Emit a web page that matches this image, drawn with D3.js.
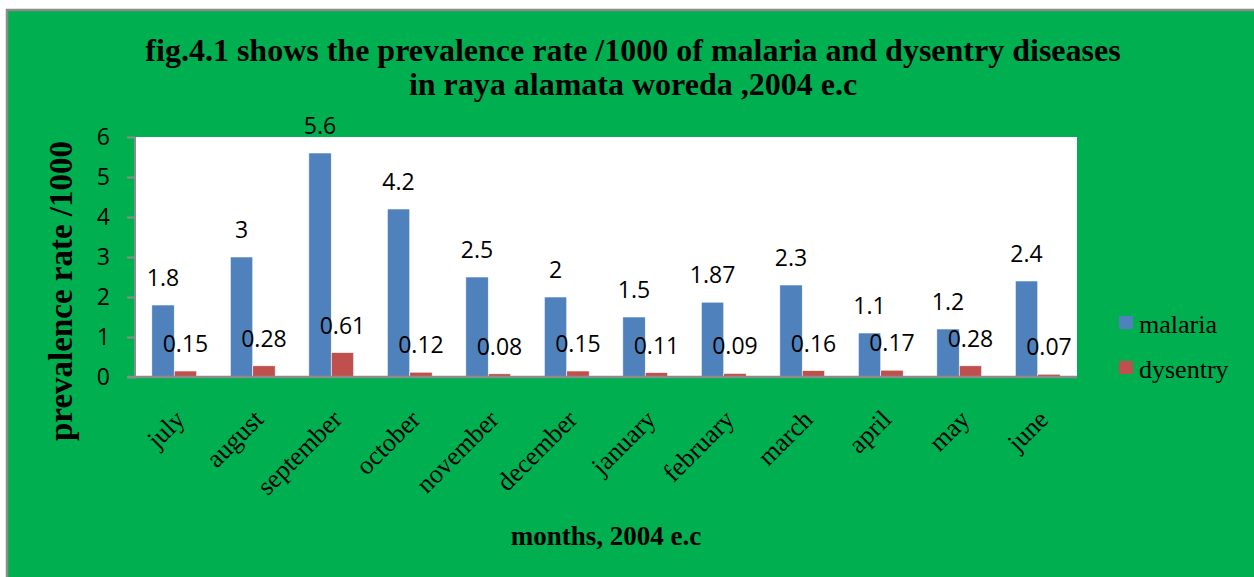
<!doctype html>
<html lang="en">
<head>
  <meta charset="utf-8">
  <title>prevalence rate</title>
  <style>
    body { margin: 0; background: #fff; }
  </style>
</head>
<body>
<svg id="chart" width="1254" height="577"></svg>

<script src="https://d3js.org/d3.v7.min.js"></script>
<script type="text/javascript">
const months = ['july', 'august', 'september', 'october', 'november', 'december',
  'january', 'february', 'march', 'april', 'may', 'june'];
const malaria = [1.8, 3, 5.6, 4.2, 2.5, 2, 1.5, 1.87, 2.3, 1.1, 1.2, 2.4];
const dysentry = [0.15, 0.28, 0.61, 0.12, 0.08, 0.15, 0.11, 0.09, 0.16, 0.17, 0.28, 0.07];
const yTicks = [0, 1, 2, 3, 4, 5, 6];
const seriesNames = ['malaria', 'dysentry'];

const colors = { malaria: '#4f81bd', dysentry: '#c0504d' };
const serif = '"Liberation Serif", "Times New Roman", serif';
const sans = '"Open Sans", "Noto Sans", sans-serif';

const svg = d3.select('#chart');

// green frame, grey edge shows on top/left only
svg.append('rect')
  .attr('x', 7).attr('y', 10)
  .attr('width', 1260).attr('height', 580)
  .attr('fill', '#00af50')
  .attr('stroke', '#8c8c8c')
  .attr('stroke-width', 2.5);

const plot = { left: 135, top: 137, right: 1077, bottom: 377 };

const x = d3.scaleBand()
  .domain(months)
  .range([plot.left, plot.right]);

const y = d3.scaleLinear()
  .domain([0, 6])
  .range([plot.bottom, plot.top]);

svg.append('rect')
  .attr('x', plot.left).attr('y', plot.top)
  .attr('width', plot.right - plot.left)
  .attr('height', plot.bottom - plot.top)
  .attr('fill', '#fff');

const rows = months.map((m, i) => ({ month: m, malaria: malaria[i], dysentry: dysentry[i] }));

const groups = svg.append('g').selectAll('g')
  .data(rows)
  .join('g')
  .attr('transform', d => `translate(${x(d.month)},0)`);

// gap width 150% -> each bar is band / 3.5
const barW = x.bandwidth() / 3.5;
const offset = s => x.bandwidth() / 2 + (s === 'malaria' ? -barW : 0);

groups.selectAll('rect')
  .data(d => seriesNames.map(s => ({ s, v: d[s] })))
  .join('rect')
  .attr('x', d => offset(d.s))
  .attr('y', d => y(d.v))
  .attr('width', barW)
  .attr('height', d => y(0) - y(d.v))
  .attr('fill', d => colors[d.s])
  .attr('stroke', '#fff')
  .attr('stroke-width', 0.6);

groups.selectAll('text')
  .data(d => seriesNames.map(s => ({ s, v: d[s] })))
  .join('text')
  .attr('x', d => offset(d.s) + barW / 2)
  .attr('y', d => y(d.v) - 19)
  .attr('text-anchor', 'middle')
  .attr('font-family', sans)
  .attr('font-size', 23)
  .attr('fill', '#000')
  .text(d => d.v);

// y axis
const yAxis = svg.append('g')
  .attr('transform', `translate(${plot.left},0)`)
  .call(d3.axisLeft(y).tickValues(yTicks).tickSize(8).tickPadding(17).tickFormat(d3.format('d')));
yAxis.selectAll('line, path').attr('stroke', '#8c8c8c').attr('stroke-width', 2);
yAxis.select('.domain').attr('d', `M0,${plot.top}V${plot.bottom}`);
yAxis.selectAll('text')
  .attr('font-family', sans)
  .attr('font-size', 23)
  .attr('fill', '#000');

// x axis
svg.append('line')
  .attr('x1', plot.left - 8).attr('x2', plot.right)
  .attr('y1', plot.bottom).attr('y2', plot.bottom)
  .attr('stroke', '#8c8c8c')
  .attr('stroke-width', 2.5);

svg.append('g').selectAll('text')
  .data(months)
  .join('text')
  .attr('transform', d => `translate(${x(d) + x.bandwidth() / 2 + 12},${plot.bottom + 44}) rotate(-45)`)
  .attr('text-anchor', 'end')
  .attr('font-family', serif)
  .attr('font-size', 26)
  .attr('fill', '#000')
  .text(d => d);

// titles
const title = svg.append('text')
  .attr('text-anchor', 'middle')
  .attr('font-family', serif)
  .attr('font-weight', 'bold')
  .attr('font-size', 32)
  .attr('fill', '#000');
title.append('tspan').attr('x', 633).attr('y', 61)
  .text('fig.4.1 shows the prevalence rate /1000 of malaria and dysentry diseases');
title.append('tspan').attr('x', 633).attr('y', 95)
  .text('in raya alamata woreda ,2004 e.c');

svg.append('text')
  .attr('transform', 'translate(72,291) rotate(-90)')
  .attr('text-anchor', 'middle')
  .attr('font-family', serif)
  .attr('font-weight', 'bold')
  .attr('font-size', 33)
  .attr('fill', '#000')
  .text('prevalence rate /1000');

svg.append('text')
  .attr('x', 606).attr('y', 545)
  .attr('text-anchor', 'middle')
  .attr('font-family', serif)
  .attr('font-weight', 'bold')
  .attr('font-size', 27)
  .attr('fill', '#000')
  .text('months, 2004 e.c');

// legend
const legend = svg.append('g').selectAll('g')
  .data(seriesNames)
  .join('g')
  .attr('transform', (d, i) => `translate(1119,${316 + i * 45})`);
legend.append('rect')
  .attr('width', 14).attr('height', 13)
  .attr('fill', d => colors[d]);
legend.append('text')
  .attr('x', 20).attr('y', 17)
  .attr('font-family', serif)
  .attr('font-size', 26)
  .attr('fill', '#000')
  .text(d => d);
</script>
</body>
</html>
